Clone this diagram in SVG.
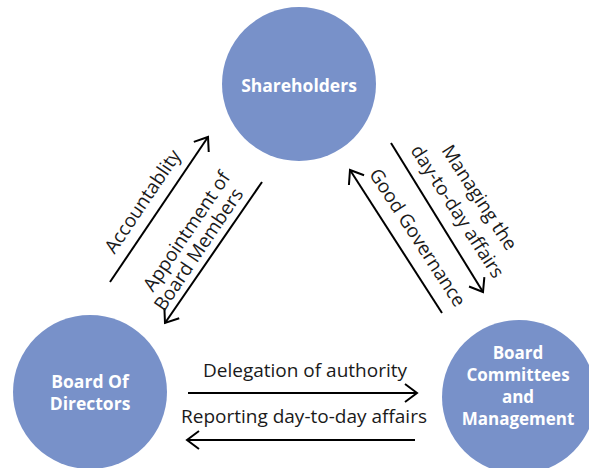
<svg xmlns="http://www.w3.org/2000/svg" width="589" height="468" viewBox="0 0 589 468">
<defs>
<marker id="arr" markerUnits="userSpaceOnUse" viewBox="-14 -11 16 22" markerWidth="16" markerHeight="22" refX="0" refY="0" orient="auto">
<path d="M-12,-9 L0,0 L-12,9" fill="none" stroke="#000" stroke-width="2"/>
</marker>
<style>
.node{fill:#7891c9;}
.nl{font-family:"Open Sans","DejaVu Sans",sans-serif;font-weight:bold;font-size:17.5px;fill:#fff;text-anchor:middle;}
.nl2{font-family:"Open Sans","DejaVu Sans",sans-serif;font-weight:bold;font-size:17px;fill:#fff;text-anchor:middle;}
.lbl{font-family:"Open Sans","DejaVu Sans",sans-serif;font-size:19px;fill:#1a1a1a;text-anchor:middle;}
.con{stroke:#000;stroke-width:2;fill:none;marker-end:url(#arr);}
</style>
</defs>
<rect width="589" height="468" fill="#fff"/>
<g id="shareholders">
<circle class="node" cx="299" cy="84" r="77"/>
<text class="nl" x="299" y="92">Shareholders</text>
</g>
<g id="board-of-directors">
<circle class="node" cx="90" cy="392" r="77"/>
<text class="nl" x="90" y="388">Board Of</text>
<text class="nl" x="90" y="410">Directors</text>
</g>
<g id="board-committees">
<circle class="node" cx="519" cy="397" r="77"/>
<text class="nl2" x="518" y="359">Board</text>
<text class="nl2" x="518" y="381">Committees</text>
<text class="nl2" x="518" y="403">and</text>
<text class="nl2" x="518" y="425">Management</text>
</g>
<g id="connectors">
<path class="con" d="M110,282 L208,137"/>
<path class="con" d="M262,182 L165,323"/>
<path class="con" d="M391,143 L483,292"/>
<path class="con" d="M442,313 L350,170"/>
<path class="con" d="M188,393 L417,393"/>
<path class="con" d="M415,440 L187,440"/>
</g>
<g id="labels">
<text class="lbl" transform="translate(148,205) rotate(-56)">Accountablity</text>
<text class="lbl" transform="translate(192,235) rotate(-56)">Appointment of</text>
<text class="lbl" transform="translate(204,253) rotate(-56)">Board Members</text>
<text class="lbl" transform="translate(474,201) rotate(57)">Managing the</text>
<text class="lbl" transform="translate(452,215) rotate(57)">day-to-day affairs</text>
<text class="lbl" transform="translate(412,241) rotate(57)">Good Governance</text>
<text class="lbl" x="305" y="377">Delegation of authority</text>
<text class="lbl" x="304" y="423">Reporting day-to-day affairs</text>
</g>
</svg>
